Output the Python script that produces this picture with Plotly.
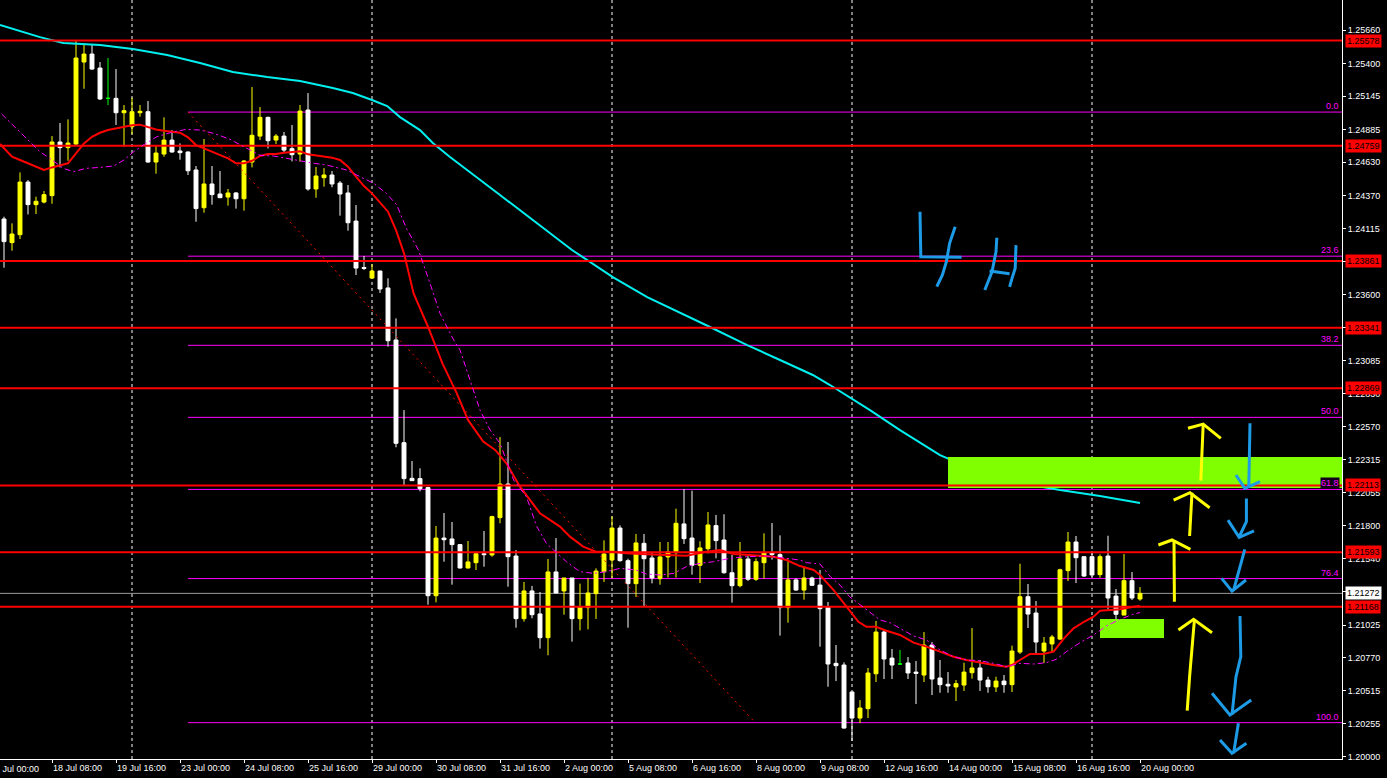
import plotly.graph_objects as go

# ---------------- data (4H candles, index 0 = 17 Jul 08:00) ----------------
opens = [1.24188, 1.24004, 1.24066, 1.24476, 1.24300, 1.24320, 1.24370, 1.24788, 1.24744, 1.24772,
         1.25411, 1.25473, 1.25364, 1.25128, 1.25128, 1.25016, 1.24907, 1.25016, 1.25024, 1.24632,
         1.24694, 1.24803, 1.24718, 1.24710, 1.24570, 1.24276, 1.24461, 1.24383, 1.24359, 1.24391,
         1.24346, 1.24632, 1.24834, 1.24980, 1.24803, 1.24834, 1.24736, 1.24694, 1.25037, 1.24422,
         1.24510, 1.24531, 1.24468, 1.24391, 1.24172, 1.23810, 1.23728, 1.23783, 1.23651, 1.23246,
         1.22446, 1.22168, 1.22166, 1.22096, 1.21254, 1.21703, 1.21696, 1.21652, 1.21470, 1.21511,
         1.21581, 1.21571, 1.21862, 1.22124, 1.21563, 1.21075, 1.21291, 1.21112, 1.20927, 1.21439,
         1.21291, 1.21392, 1.21075, 1.21161, 1.21270, 1.21441, 1.21532, 1.21781, 1.21527, 1.21348,
         1.21662, 1.21548, 1.21387, 1.21556, 1.21589, 1.21813, 1.21703, 1.21491, 1.21620, 1.21800,
         1.21688, 1.21433, 1.21332, 1.21540, 1.21382, 1.21511, 1.21587, 1.21574, 1.21161, 1.21377,
         1.21298, 1.21392, 1.21337, 1.21168, 1.20727, 1.20714, 1.20504, 1.20301, 1.20374, 1.20646,
         1.20971, 1.20768, 1.20722, 1.20730, 1.20659, 1.20636, 1.20870, 1.20613, 1.20564, 1.20543,
         1.20558, 1.20654, 1.20691, 1.20597, 1.20543, 1.20589, 1.20561, 1.20815, 1.21246, 1.21119,
         1.20823, 1.20878, 1.20916, 1.21449, 1.21672, 1.21558, 1.21558, 1.21418, 1.21563, 1.21251,
         1.21103, 1.21371, 1.21228]
highs = [1.24206, 1.24154, 1.24551, 1.24492, 1.24362, 1.24406, 1.24834, 1.24936, 1.24964, 1.25574,
         1.25551, 1.25551, 1.25411, 1.25442, 1.25356, 1.25076, 1.25133, 1.25076, 1.25107, 1.24764,
         1.24980, 1.24881, 1.24777, 1.24715, 1.24601, 1.24811, 1.24601, 1.24562, 1.24422, 1.24398,
         1.24648, 1.25216, 1.25060, 1.24985, 1.24850, 1.24866, 1.24920, 1.25076, 1.25169, 1.24593,
         1.24585, 1.24562, 1.24484, 1.24453, 1.24297, 1.23900, 1.23837, 1.23785, 1.23726, 1.23414,
         1.22700, 1.22303, 1.22246, 1.22104, 1.21797, 1.21898, 1.21828, 1.21652, 1.21680, 1.21597,
         1.21758, 1.21877, 1.22490, 1.22451, 1.21610, 1.21361, 1.21330, 1.21283, 1.21540, 1.21703,
         1.21392, 1.21392, 1.21348, 1.21392, 1.21467, 1.21685, 1.21872, 1.21802, 1.21542, 1.21735,
         1.21735, 1.21595, 1.21672, 1.21672, 1.21932, 1.22085, 1.22072, 1.21678, 1.21906, 1.21883,
         1.21888, 1.21571, 1.21672, 1.21579, 1.21545, 1.21740, 1.21820, 1.21724, 1.21537, 1.21390,
         1.21480, 1.21402, 1.21454, 1.21205, 1.20870, 1.20735, 1.20504, 1.20441, 1.20691, 1.21057,
         1.20994, 1.20839, 1.20831, 1.20776, 1.20745, 1.20971, 1.20893, 1.20753, 1.20659, 1.20597,
         1.20732, 1.21002, 1.20753, 1.20623, 1.20623, 1.20636, 1.20865, 1.21503, 1.21345, 1.21212,
         1.20932, 1.20948, 1.21464, 1.21750, 1.21719, 1.21558, 1.21602, 1.21576, 1.21721, 1.21306,
         1.21578, 1.21438, 1.21321]
lows = [1.23809, 1.23941, 1.24032, 1.24224, 1.24227, 1.24310, 1.24307, 1.24590, 1.24642, 1.24757,
        1.25203, 1.25351, 1.25115, 1.25076, 1.24920, 1.24751, 1.24847, 1.24985, 1.24627, 1.24541,
        1.24673, 1.24705, 1.24650, 1.24531, 1.24167, 1.24237, 1.24300, 1.24352, 1.24292, 1.24269,
        1.24253, 1.24590, 1.24803, 1.24738, 1.24772, 1.24710, 1.24637, 1.24635, 1.24409, 1.24354,
        1.24440, 1.24435, 1.24214, 1.24097, 1.23752, 1.23791, 1.23725, 1.23612, 1.23194, 1.22410,
        1.22114, 1.22150, 1.22067, 1.21184, 1.21202, 1.21519, 1.21340, 1.21465, 1.21465, 1.21454,
        1.21480, 1.21558, 1.21818, 1.21324, 1.21005, 1.21052, 1.21078, 1.20842, 1.20790, 1.21273,
        1.21106, 1.20896, 1.20984, 1.20992, 1.21073, 1.21361, 1.21389, 1.21519, 1.21005, 1.21244,
        1.21171, 1.21350, 1.21340, 1.21395, 1.21395, 1.21657, 1.21418, 1.21353, 1.21584, 1.21545,
        1.21426, 1.21200, 1.21319, 1.21369, 1.21369, 1.21387, 1.21535, 1.20943, 1.21044, 1.21293,
        1.21223, 1.21330, 1.20857, 1.20545, 1.20589, 1.20218, 1.20122, 1.20262, 1.20301, 1.20582,
        1.20605, 1.20605, 1.20714, 1.20605, 1.20410, 1.20582, 1.20480, 1.20498, 1.20498, 1.20434,
        1.20512, 1.20608, 1.20512, 1.20498, 1.20504, 1.20498, 1.20504, 1.20800, 1.21002, 1.20792,
        1.20730, 1.20808, 1.20909, 1.21368, 1.21353, 1.21400, 1.21400, 1.21394, 1.21150, 1.21033,
        1.21103, 1.21220, 1.21215]
closes = [1.24012, 1.24071, 1.24476, 1.24300, 1.24326, 1.24378, 1.24788, 1.24744, 1.24780, 1.25442,
          1.25473, 1.25356, 1.25123, 1.25128, 1.25016, 1.25032, 1.25024, 1.25027, 1.24632, 1.24702,
          1.24803, 1.24710, 1.24705, 1.24564, 1.24269, 1.24461, 1.24378, 1.24354, 1.24391, 1.24346,
          1.24640, 1.24840, 1.24980, 1.24798, 1.24834, 1.24725, 1.24689, 1.25029, 1.24422, 1.24523,
          1.24531, 1.24461, 1.24383, 1.24159, 1.23806, 1.23803, 1.23783, 1.23643, 1.23240, 1.22441,
          1.22166, 1.22150, 1.22088, 1.21254, 1.21703, 1.21690, 1.21652, 1.21470, 1.21517, 1.21581,
          1.21574, 1.21870, 1.22124, 1.21558, 1.21075, 1.21291, 1.21106, 1.20927, 1.21439, 1.21275,
          1.21392, 1.21075, 1.21166, 1.21275, 1.21446, 1.21579, 1.21781, 1.21527, 1.21348, 1.21665,
          1.21542, 1.21392, 1.21556, 1.21595, 1.21818, 1.21698, 1.21491, 1.21626, 1.21805, 1.21683,
          1.21433, 1.21332, 1.21540, 1.21382, 1.21519, 1.21587, 1.21574, 1.21161, 1.21377, 1.21298,
          1.21392, 1.21335, 1.21153, 1.20722, 1.20709, 1.20223, 1.20301, 1.20379, 1.20652, 1.20971,
          1.20761, 1.20714, 1.20722, 1.20652, 1.20649, 1.20870, 1.20605, 1.20561, 1.20551, 1.20569,
          1.20659, 1.20691, 1.20597, 1.20545, 1.20589, 1.20561, 1.20823, 1.21246, 1.21111, 1.20893,
          1.20885, 1.20932, 1.21456, 1.21672, 1.21550, 1.21407, 1.21415, 1.21558, 1.21236, 1.21109,
          1.21371, 1.21236, 1.21272]
doji_idx = [13, 112]

# moving averages (candle index, price)
red_ma_idx = [-0.5, 1, 2, 3, 4, 5, 6, 7, 8, 9, 10, 11, 12, 13, 14, 15, 16, 17, 18, 19, 20, 21, 22, 23, 24,
              25, 26, 27, 28, 29, 30, 31, 32, 33, 34, 35, 36, 37, 38, 39, 40, 41, 42, 43, 44, 45, 46, 47,
              48, 49, 50, 51.2, 53, 54.8, 56.6, 58, 59.9, 61.4, 62.8, 64.5, 67, 69.5, 70.75, 72.4, 74, 76,
              77.8, 80.3, 82.8, 85.3, 87.8, 89.5, 91.2, 93.7, 96.2, 97.8, 99.5, 101.2, 102, 103.7, 105.3,
              106.8, 107.8, 109, 110.3, 112, 113.7, 115.3, 117, 118.7, 120.3, 122, 123.7, 125.3, 126, 127,
              128.25, 129.9, 131.2, 132.5, 133.7, 135, 136.2, 137, 138.25, 139.5, 141.2, 142]
red_ma_val = [1.24772, 1.24673, 1.24648, 1.24622, 1.24596, 1.24570, 1.24590, 1.24609, 1.24622, 1.24699,
              1.24777, 1.24829, 1.24860, 1.24881, 1.24894, 1.24907, 1.24918, 1.24923, 1.24902, 1.24886,
              1.24876, 1.24868, 1.24860, 1.24824, 1.24764, 1.24738, 1.24712, 1.24686, 1.24661, 1.24622,
              1.24622, 1.24642, 1.24679, 1.24694, 1.24694, 1.24705, 1.24710, 1.24715, 1.24692, 1.24684,
              1.24673, 1.24666, 1.24648, 1.24596, 1.24518, 1.24445, 1.24388, 1.24315, 1.24245, 1.24102,
              1.23921, 1.23609, 1.23349, 1.23064, 1.22830, 1.22623, 1.22454, 1.22389, 1.22285, 1.22103,
              1.21896, 1.21792, 1.21714, 1.21636, 1.21597, 1.21597, 1.21584, 1.21576, 1.21569, 1.21566,
              1.21597, 1.21610, 1.21579, 1.21566, 1.21558, 1.21532, 1.21485, 1.21454, 1.21415, 1.21298,
              1.21168, 1.21051, 1.21012, 1.21012, 1.20981, 1.20948, 1.20888, 1.20857, 1.20818, 1.20779,
              1.20753, 1.20732, 1.20714, 1.20701, 1.20714, 1.20753, 1.20800, 1.20800, 1.20818, 1.20922,
              1.21000, 1.21051, 1.21091, 1.21137, 1.21143, 1.21148, 1.21168, 1.21174]
mag_ma_idx = [-0.3, 1.6, 3.0, 4.5, 5.75, 7.4, 8.7, 10.3, 12, 13.7, 15, 16.2, 17.4, 19.1, 21.2, 22.8, 24.5,
              26.2, 28.25, 30, 32, 33.7, 35.3, 37, 38.7, 40.3, 41.6, 42.8, 44.5, 46.2, 47.8, 49.1, 50.3,
              51.8, 53.25, 54.5, 56.2, 57, 58.25, 59.5, 60.75, 62, 63.7, 65.3, 66.6, 67.8, 68.7, 70.3, 72,
              73.7, 75.3, 77, 79, 80.3, 82, 83.7, 85.3, 87, 88.7, 90.75, 92.8, 95.3, 97.8, 99.5, 100.3, 102,
              103.3, 104.5, 105.7, 107.4, 109.5, 110.75, 112, 113.7, 115.3, 117, 118.7, 120.3, 122, 123.7,
              125.3, 127, 128.7, 130.3, 131.5, 132.8, 134.5, 136.2, 137.8, 139.5, 141.2, 142]
mag_ma_val = [1.25006, 1.24892, 1.24803, 1.24712, 1.24660, 1.24583, 1.24557, 1.24583, 1.24590, 1.24601,
              1.24648, 1.24712, 1.24764, 1.24829, 1.24868, 1.24886, 1.24881, 1.24855, 1.24809, 1.24751,
              1.24684, 1.24679, 1.24660, 1.24642, 1.24622, 1.24609, 1.24590, 1.24570, 1.24518, 1.24466,
              1.24388, 1.24297, 1.24115, 1.23947, 1.23687, 1.23453, 1.23246, 1.23168, 1.22934, 1.22700,
              1.22545, 1.22441, 1.22155, 1.22025, 1.21792, 1.21662, 1.21610, 1.21519, 1.21441, 1.21428,
              1.21441, 1.21467, 1.21454, 1.21423, 1.21415, 1.21428, 1.21480, 1.21506, 1.21519, 1.21545,
              1.21558, 1.21563, 1.21545, 1.21532, 1.21511, 1.21501, 1.21402, 1.21337, 1.21246, 1.21168,
              1.21065, 1.21044, 1.21000, 1.20940, 1.20909, 1.20831, 1.20779, 1.20753, 1.20748, 1.20727,
              1.20701, 1.20727, 1.20722, 1.20732, 1.20758, 1.20818, 1.20888, 1.20948, 1.21018, 1.21070,
              1.21111, 1.21122]
cyan_ma_idx = [-0.5, 1.6, 4.5, 7.4, 12, 16.1, 20.4, 24.5, 28.6, 32.9, 37, 41.1, 43.6, 46, 47.9, 49.5, 52,
               53.6, 55.75, 62, 67, 71, 76.1, 80.4, 88.25, 92.9, 97, 101.1, 103.25, 108.25, 112, 117, 122,
               127, 132, 137, 142]
cyan_ma_val = [1.25699, 1.25660, 1.25605, 1.25559, 1.25543, 1.25512, 1.25465, 1.25403, 1.25333, 1.25294,
               1.25263, 1.25208, 1.25169, 1.25115, 1.25068, 1.24982, 1.24881, 1.24780, 1.24671, 1.24375,
               1.24141, 1.23947, 1.23736, 1.23580, 1.23347, 1.23206, 1.23090, 1.22973, 1.22895, 1.22700,
               1.22544, 1.22349, 1.22217, 1.22132, 1.22077, 1.22030, 1.21976]

# levels
red_levels = [1.25578, 1.24759, 1.23861, 1.23341, 1.22869, 1.22113, 1.21593, 1.21168]
current_price = 1.21272
fib_high = 1.25021
fib_low = 1.20265
fib_start_idx = 23
fib_end_idx = 93.9
fib_ratios = [0.0, 23.6, 38.2, 50.0, 61.8, 76.4, 100.0]

# zones: (x0 idx, x1 idx, y0, y1)
zones = [(118, 167.25, 1.22093, 1.22334), (137, 145, 1.20924, 1.21072)]

# axis
y_ticks = [1.20000, 1.20255, 1.20515, 1.20770, 1.21025, 1.21285, 1.21540, 1.21800, 1.22055, 1.22315,
           1.22570, 1.22830, 1.23085, 1.23345, 1.23600, 1.23860, 1.24115, 1.24370, 1.24630, 1.24885,
           1.25145, 1.25400, 1.25660]
x_tick_idx = [6, 14, 22, 30, 38, 46, 54, 62, 70, 78, 86, 94, 102, 110, 118, 126, 134, 142]
x_tick_txt = ["18 Jul 08:00", "19 Jul 16:00", "23 Jul 00:00", "24 Jul 08:00", "25 Jul 16:00",
              "29 Jul 00:00", "30 Jul 08:00", "31 Jul 16:00", "2 Aug 00:00", "5 Aug 08:00",
              "6 Aug 16:00", "8 Aug 00:00", "9 Aug 08:00", "12 Aug 16:00", "14 Aug 00:00",
              "15 Aug 08:00", "16 Aug 16:00", "20 Aug 00:00"]
first_label_idx = -2
first_label_txt = "17 Jul 00:00"
sep_idx = [16, 46, 76, 106, 136]

# hand drawn marks (candle index, price)
yellow_strokes = [
    ([149.6, 149.75, 149.9], [1.22150, 1.22389, 1.22591]),
    ([148.0, 149.9, 152.1], [1.22558, 1.22591, 1.22480]),
    ([148.2, 148.5], [1.21719, 1.22056]),
    ([146.2, 148.25, 150.7], [1.21999, 1.22056, 1.21939]),
    ([146.3, 146.25], [1.21207, 1.21682]),
    ([144.3, 146.0, 148.3], [1.21649, 1.21688, 1.21615]),
    ([147.9, 148.2, 148.8], [1.20358, 1.20623, 1.21064]),
    ([146.8, 148.7, 151.0], [1.20987, 1.21070, 1.20966]),
]
blue_strokes = [
    ([155.75, 155.6], [1.22597, 1.22103]),
    ([154.0, 155.1, 157.0], [1.22194, 1.22090, 1.22142]),
    ([155.3, 155.3, 154.4], [1.22012, 1.21830, 1.21713]),
    ([153.0, 154.4, 156.25], [1.21843, 1.21709, 1.21758]),
    ([155.1, 153.7], [1.21615, 1.21298]),
    ([152.2, 153.5, 155.25], [1.21389, 1.21290, 1.21376]),
    ([154.5, 154.6, 154.0, 153.5], [1.21096, 1.20779, 1.20623, 1.20325]),
    ([151.0, 153.25, 155.9], [1.20494, 1.20325, 1.20441]),
    ([154.3, 153.7], [1.20260, 1.20026]),
    ([152.0, 153.5, 155.3], [1.20130, 1.20026, 1.20104]),
    # "4H"
    ([114.5, 114.6, 119.7], [1.24245, 1.23894, 1.23890]),
    ([118.9, 118.2, 117.8, 117.3, 116.6], [1.24128, 1.23999, 1.23855, 1.23752, 1.23661]),
    ([124.1, 124.0, 123.5, 123.0, 122.6], [1.24042, 1.23933, 1.23777, 1.23700, 1.23635]),
    ([126.5, 126.4, 126.0, 125.7], [1.23985, 1.23804, 1.23726, 1.23660]),
    ([123.2, 125.7], [1.23783, 1.23762]),
]

# ---------------- figure ----------------
X_MIN, X_MAX = -0.5, 167.25
Y_MIN, Y_MAX = 1.19982, 1.25894
FONT = "Liberation Sans"

n = len(opens)
idx_all = list(range(n))
norm = [i for i in idx_all if i not in doji_idx]

fig = go.Figure()

fig.add_trace(go.Candlestick(
    x=norm, open=[opens[i] for i in norm], high=[highs[i] for i in norm],
    low=[lows[i] for i in norm], close=[closes[i] for i in norm],
    increasing=dict(line=dict(color="#FFFF00", width=1), fillcolor="#FFFF00"),
    decreasing=dict(line=dict(color="#FFFFFF", width=1), fillcolor="#FFFFFF"),
    whiskerwidth=0, hoverinfo="skip"))
fig.add_trace(go.Candlestick(
    x=doji_idx, open=[opens[i] for i in doji_idx], high=[highs[i] for i in doji_idx],
    low=[lows[i] for i in doji_idx], close=[closes[i] for i in doji_idx],
    increasing=dict(line=dict(color="#00FF00", width=1), fillcolor="#00FF00"),
    decreasing=dict(line=dict(color="#00FF00", width=1), fillcolor="#00FF00"),
    whiskerwidth=0, hoverinfo="skip"))

# cyan long MA (behind the zone)
fig.add_trace(go.Scatter(x=cyan_ma_idx, y=cyan_ma_val, mode="lines",
                         line=dict(color="#00F0F0", width=2), hoverinfo="skip"))

# zones
for x0, x1, y0, y1 in zones:
    fig.add_trace(go.Scatter(x=[x0, x1, x1, x0, x0], y=[y0, y0, y1, y1, y0], mode="lines",
                             fill="toself", fillcolor="#7FFF00", line=dict(width=0, color="#7FFF00"),
                             hoverinfo="skip"))

# red horizontal levels
for lv in red_levels:
    fig.add_trace(go.Scatter(x=[X_MIN, X_MAX], y=[lv, lv], mode="lines",
                             line=dict(color="#FF0000", width=2), hoverinfo="skip"))

# moving averages
fig.add_trace(go.Scatter(x=red_ma_idx, y=red_ma_val, mode="lines",
                         line=dict(color="#FF0000", width=2), hoverinfo="skip"))
fig.add_trace(go.Scatter(x=mag_ma_idx, y=mag_ma_val, mode="lines",
                         line=dict(color="#FF00FF", width=1, dash="6px,3px,2px,3px"), hoverinfo="skip"))

# fibonacci base line
fig.add_trace(go.Scatter(x=[fib_start_idx, fib_end_idx], y=[fib_high, fib_low], mode="lines",
                         line=dict(color="#FF0000", width=1, dash="2px,4px"), hoverinfo="skip"))

# hand drawings
for xs, ys in yellow_strokes:
    fig.add_trace(go.Scatter(x=xs, y=ys, mode="lines", line=dict(color="#FFFF00", width=3),
                             hoverinfo="skip"))
for xs, ys in blue_strokes:
    fig.add_trace(go.Scatter(x=xs, y=ys, mode="lines", line=dict(color="#1E9BE6", width=3),
                             hoverinfo="skip"))

shapes = []
for s in sep_idx:
    shapes.append(dict(type="line", xref="x", yref="paper", x0=s, x1=s, y0=0, y1=1,
                       line=dict(color="#FFFFFF", width=1, dash="3px,3px"), layer="below"))
fib_vals = [fib_high - r / 100.0 * (fib_high - fib_low) for r in fib_ratios]
for fv in fib_vals:
    shapes.append(dict(type="line", xref="x", yref="y", x0=fib_start_idx, x1=X_MAX, y0=fv, y1=fv,
                       line=dict(color="#FF00FF", width=1), layer="below"))
shapes.append(dict(type="line", xref="paper", yref="y", x0=0, x1=1, y0=current_price, y1=current_price,
                   line=dict(color="#9A9A9A", width=1), layer="below"))

annotations = []
for r, fv in zip(fib_ratios, fib_vals):
    annotations.append(dict(xref="paper", x=1, xshift=-2, xanchor="right", yref="y", y=fv,
                            yanchor="bottom", text=f"{r:.1f}", showarrow=False,
                            font=dict(family=FONT, size=9, color="#FF00FF"),
                            bgcolor="#10001A" if r == 61.8 else None, borderpad=0))
for lv in red_levels:
    annotations.append(dict(xref="paper", x=1, xshift=3, xanchor="left", yref="y", y=lv,
                            yanchor="middle", text=f"{lv:.5f}", showarrow=False,
                            font=dict(family=FONT, size=9, color="#000000"),
                            bgcolor="#FF0000", borderpad=1))
annotations.append(dict(xref="paper", x=1, xshift=3, xanchor="left", yref="y", y=current_price,
                        yanchor="middle", text=f"{current_price:.5f}", showarrow=False,
                        font=dict(family=FONT, size=9, color="#000000"),
                        bgcolor="#FFFFFF", borderpad=1))
annotations.append(dict(xref="paper", x=(first_label_idx - X_MIN) / (X_MAX - X_MIN), xanchor="left",
                        yref="paper", y=0, yanchor="top", yshift=-3, text=first_label_txt,
                        showarrow=False, font=dict(family=FONT, size=9, color="#FFFFFF")))

fig.update_layout(
    width=1387, height=778,
    margin=dict(l=0, r=45, t=0, b=19, autoexpand=False),
    paper_bgcolor="#000000", plot_bgcolor="#000000",
    showlegend=False,
    font=dict(family=FONT, size=9, color="#FFFFFF"),
    shapes=shapes, annotations=annotations,
    xaxis=dict(range=[X_MIN, X_MAX], showgrid=False, zeroline=False, showline=True,
               linecolor="#FFFFFF", linewidth=1, ticks="outside", ticklen=3, tickcolor="#FFFFFF",
               tickvals=x_tick_idx, ticktext=x_tick_txt, ticklabelposition="outside right",
               rangeslider=dict(visible=False), fixedrange=True, automargin=False,
               tickfont=dict(family=FONT, size=9, color="#FFFFFF")),
    yaxis=dict(range=[Y_MIN, Y_MAX], side="right", showgrid=False, zeroline=False, showline=True,
               linecolor="#FFFFFF", linewidth=1, ticks="outside", ticklen=3, tickcolor="#FFFFFF",
               tickvals=y_ticks, ticktext=[f"{v:.5f}" for v in y_ticks], fixedrange=True,
               automargin=False, tickfont=dict(family=FONT, size=9, color="#FFFFFF")),
)

fig.write_html("out.html", config={"displayModeBar": False},
               post_script="document.body.style.margin='0';document.body.style.overflow='hidden';")
